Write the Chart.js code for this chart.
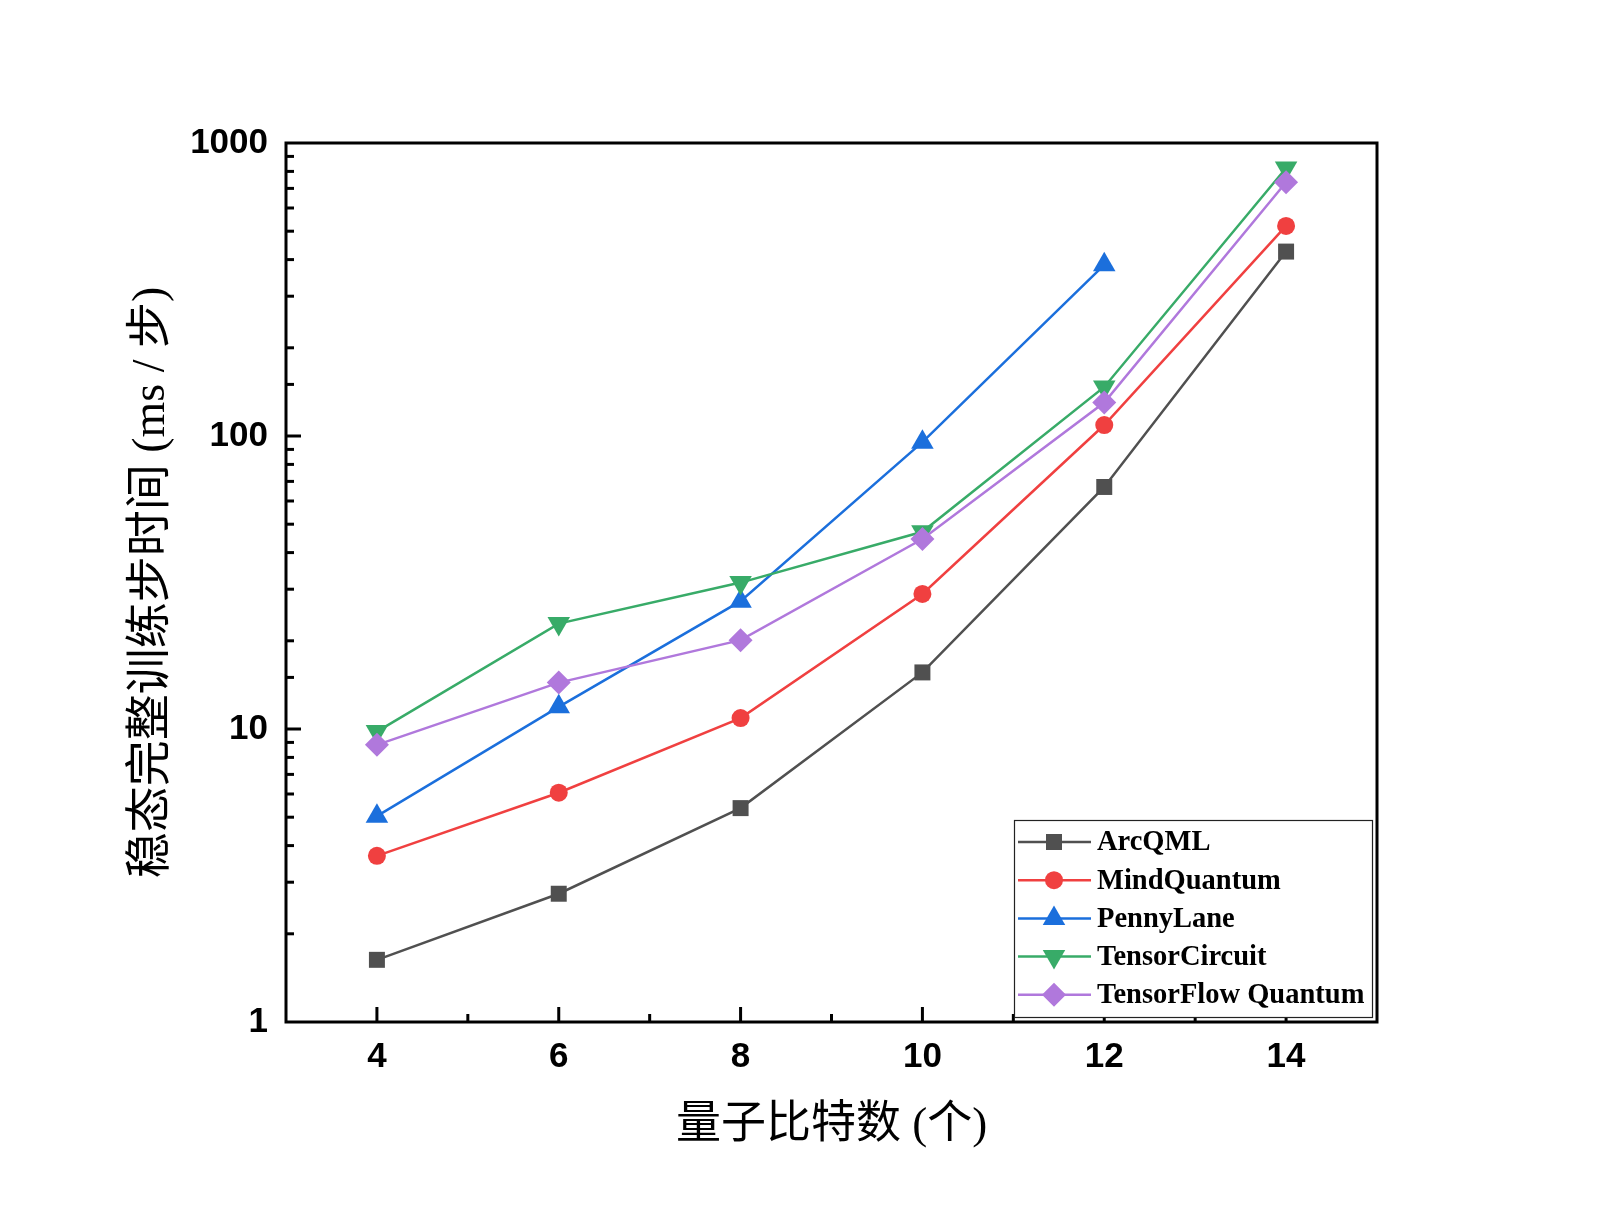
<!DOCTYPE html>
<html>
<head>
<meta charset="utf-8">
<title>稳态完整训练步时间</title>
<script src="https://cdn.jsdelivr.net/npm/chart.js@4.4.0/dist/chart.umd.min.js"></script>
<style>
  html, body { margin: 0; padding: 0; background: #fff; }
  canvas { display: block; }
</style>
</head>
<body>
<canvas id="chart" width="1600" height="1225"></canvas>
<script>
// qubit counts on the x axis
const qubits = [4, 6, 8, 10, 12, 14];

// ms per step
const arcQML        = [1.63, 2.74, 5.37, 15.6, 67, 426];
const mindQuantum   = [3.69, 6.06, 10.9, 28.9, 109, 521];
const pennyLane     = [5.04, 11.9, 27.3, 95.3, 384];   // no 14-qubit point
const tensorCircuit = [9.8, 22.9, 31.6, 47.1, 147, 822];
const tfq           = [8.83, 14.4, 20.1, 44.5, 130, 735];

const seriesNames = ['ArcQML', 'MindQuantum', 'PennyLane', 'TensorCircuit', 'TensorFlow Quantum'];
const xTickLabels = [4, 6, 8, 10, 12, 14];
const yTickLabels = [1, 10, 100, 1000];

const tickFont = { family: "'Liberation Sans', Arial, sans-serif", size: 35, weight: 'bold' };
const titleFamily = "'Liberation Serif', 'Noto Sans CJK SC', serif";

function pts(values) {
    return values.map((v, i) => ({ x: qubits[i], y: v }));
}

function line(label, values, color, style, radius, rotation, order) {
    return {
        label: label,
        data: pts(values),
        borderColor: color,
        backgroundColor: color,
        borderWidth: 2.5,
        pointStyle: style,
        pointRadius: radius,
        pointRotation: rotation,
        pointBorderWidth: 0,
        pointBackgroundColor: color,
        tension: 0,
        order: order
    };
}

const datasets = [
    line(seriesNames[0], arcQML, '#505050', 'rect', 11.3, 0, 5),
    line(seriesNames[1], mindQuantum, '#f04040', 'circle', 9, 0, 4),
    line(seriesNames[2], pennyLane, '#1b6fdc', 'triangle', 13, 0, 3),
    line(seriesNames[3], tensorCircuit, '#38ab68', 'triangle', 13, 180, 2),
    line(seriesNames[4], tfq, '#b078dc', 'rectRot', 12, 0, 1)
];

// own marker drawing for the legend
function marker(ctx, ds, x, y) {
    const r = ds.pointRadius;
    ctx.save();
    ctx.fillStyle = ds.pointBackgroundColor;
    ctx.translate(x, y);
    ctx.rotate(ds.pointRotation * Math.PI / 180);
    ctx.beginPath();
    if (ds.pointStyle === 'rect') {
        const s = r * Math.SQRT1_2;
        ctx.rect(-s, -s, 2 * s, 2 * s);
    } else if (ds.pointStyle === 'circle') {
        ctx.arc(0, 0, r, 0, Math.PI * 2);
    } else if (ds.pointStyle === 'triangle') {
        for (let k = 0; k < 3; k++) {
            const a = k * 2 * Math.PI / 3;
            ctx[k ? 'lineTo' : 'moveTo'](Math.sin(a) * r, -Math.cos(a) * r);
        }
        ctx.closePath();
    } else {
        ctx.moveTo(-r, 0); ctx.lineTo(0, -r); ctx.lineTo(r, 0); ctx.lineTo(0, r);
        ctx.closePath();
    }
    ctx.fill();
    ctx.restore();
}

const framePlugin = {
    id: 'frame',
    afterDatasetsDraw(chart) {
        const ctx = chart.ctx;
        const a = chart.chartArea;
        const xs = chart.scales.x, ys = chart.scales.y;
        ctx.save();
        ctx.strokeStyle = '#000';
        ctx.lineWidth = 3;
        ctx.lineCap = 'butt';
        // inward ticks on the bottom axis
        xs.ticks.forEach(t => {
            if (t.value <= xs.min || t.value >= xs.max) return;
            const px = xs.getPixelForValue(t.value);
            const len = t.value % 2 === 0 ? 15 : 8;
            ctx.beginPath();
            ctx.moveTo(px, a.bottom);
            ctx.lineTo(px, a.bottom - len);
            ctx.stroke();
        });
        // inward ticks on the left axis
        ys.ticks.forEach(t => {
            if (t.value <= ys.min || t.value >= ys.max) return;
            const py = ys.getPixelForValue(t.value);
            const lg = Math.log10(t.value);
            const len = Math.abs(lg - Math.round(lg)) < 1e-9 ? 15 : 8;
            ctx.beginPath();
            ctx.moveTo(a.left, py);
            ctx.lineTo(a.left + len, py);
            ctx.stroke();
        });
        ctx.lineJoin = 'miter';
        ctx.strokeRect(a.left, a.top, a.right - a.left, a.bottom - a.top);
        ctx.restore();
    },
    afterDraw(chart) {
        const ctx = chart.ctx;
        const a = chart.chartArea;
        const bx = 1014, by = 820, bw = a.right - 5 - bx, bh = a.bottom - 5 - by;
        ctx.save();
        ctx.fillStyle = '#fff';
        ctx.fillRect(bx, by, bw, bh);
        ctx.strokeStyle = '#222';
        ctx.lineWidth = 1.2;
        ctx.strokeRect(bx + 0.5, by + 0.5, bw, bh);
        ctx.font = "bold 28.5px 'Liberation Serif', 'Times New Roman', serif";
        ctx.textBaseline = 'middle';
        ctx.textAlign = 'left';
        chart.data.datasets.forEach((ds, i) => {
            const cy = by + 22 + i * 38.2;
            ctx.strokeStyle = ds.borderColor;
            ctx.lineWidth = 2.5;
            ctx.beginPath();
            ctx.moveTo(bx + 4, cy);
            ctx.lineTo(bx + 77, cy);
            ctx.stroke();
            marker(ctx, ds, bx + 40, cy);
            ctx.fillStyle = '#000';
            ctx.fillText(ds.label, bx + 83, cy + 1);
        });
        ctx.restore();
    }
};

new Chart(document.getElementById('chart'), {
    type: 'line',
    data: { datasets: datasets },
    plugins: [framePlugin],
    options: {
        responsive: false,
        devicePixelRatio: 1,
        animation: false,
        layout: { padding: { top: 143, right: 223, left: 0, bottom: 0 } },
        plugins: {
            legend: { display: false },
            tooltip: { enabled: false }
        },
        scales: {
            x: {
                type: 'linear',
                min: 3,
                max: 15,
                afterFit: s => { s.height = 203; },
                grid: { display: false },
                border: { display: false },
                ticks: {
                    stepSize: 1,
                    autoSkip: false,
                    maxRotation: 0,
                    padding: 6,
                    color: '#000',
                    font: tickFont,
                    callback: v => xTickLabels.includes(v) ? String(v) : ''
                },
                title: {
                    display: true,
                    text: '量子比特数 (个)',
                    color: '#000',
                    font: { family: titleFamily, size: 45 },
                    padding: { top: 0, bottom: 72 }
                }
            },
            y: {
                type: 'logarithmic',
                min: 1,
                max: 1000,
                afterFit: s => { s.width = 286; },
                grid: { display: false },
                border: { display: false },
                ticks: {
                    autoSkip: false,
                    padding: 10,
                    color: '#000',
                    font: tickFont,
                    callback: v => yTickLabels.includes(v) ? String(v) : ''
                },
                title: {
                    display: true,
                    text: '稳态完整训练步时间 (ms / 步)',
                    color: '#000',
                    font: { family: titleFamily, size: 46 },
                    padding: { top: 124, bottom: 0 }
                }
            }
        }
    }
});
</script>
</body>
</html>
